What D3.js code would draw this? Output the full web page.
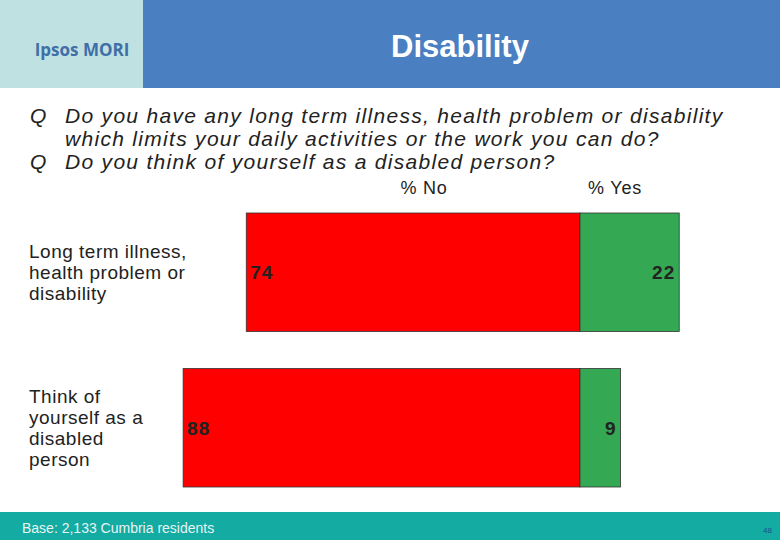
<!DOCTYPE html>
<html><head><meta charset="utf-8">
<script src="https://cdn.jsdelivr.net/npm/d3@7"></script>
<style>body{margin:0}svg{display:block}</style>
</head><body>
<svg id="c" width="780" height="540"></svg>
<script>
// data
const categories = ['Long term illness, health problem or disability', 'Think of yourself as a disabled person'];
const labelLines = [['Long term illness,', 'health problem or', 'disability'], ['Think of', 'yourself as a', 'disabled', 'person']];
const noValues = [74, 88];
const yesValues = [22, 9];
const questions = ['Do you have any long term illness, health problem or disability', 'which limits your daily activities or the work you can do?', 'Do you think of yourself as a disabled person?'];

const svg = d3.select('#c');
const font = 'Arial, Liberation Sans, sans-serif';

// header
svg.append('rect').attr('x', 0).attr('y', 0).attr('width', 780).attr('height', 88).attr('fill', '#4a7fc1');
svg.append('rect').attr('x', 0).attr('y', 0).attr('width', 143).attr('height', 88).attr('fill', '#c0e1e2');
svg.append('text').attr('x', 82).attr('y', 56).attr('text-anchor', 'middle').attr('font-family', 'Open Sans, sans-serif')
  .attr('font-weight', 'bold').attr('font-size', 17).attr('fill', '#3f6fa6').text('Ipsos MORI');
svg.append('text').attr('x', 460).attr('y', 57).attr('text-anchor', 'middle').attr('font-family', font)
  .attr('font-weight', 'bold').attr('font-size', 31).attr('fill', '#fff').text('Disability');

// questions
const qg = svg.append('g').attr('font-family', font).attr('font-style', 'italic').attr('font-size', 21)
  .attr('letter-spacing', 1.3).attr('fill', '#222');
[[0, 'Q'], [2, 'Q']].forEach(([i, t]) => qg.append('text').attr('x', 30).attr('y', 123 + i * 23).text(t));
questions.forEach((q, i) => qg.append('text').attr('x', 65).attr('y', 123 + i * 23).text(q));

// scales
const x = d3.scaleLinear().domain([-100, 100]).range([580 - 451, 580 + 451]);
const y = d3.scaleBand().domain(categories).range([213, 487]).paddingInner(0.238).paddingOuter(0);

svg.append('text').attr('x', 424).attr('y', 194).attr('text-anchor', 'middle').attr('font-family', font).attr('font-size', 18).attr('letter-spacing', 0.8).attr('fill', '#222').text('% No');
svg.append('text').attr('x', 615).attr('y', 194).attr('text-anchor', 'middle').attr('font-family', font).attr('font-size', 18).attr('letter-spacing', 0.8).attr('fill', '#222').text('% Yes');

categories.forEach((c, i) => {
  const y0 = y(c), h = y.bandwidth();
  svg.append('rect').attr('x', x(-noValues[i])).attr('y', y0).attr('width', x(0) - x(-noValues[i])).attr('height', h)
    .attr('fill', '#ff0000').attr('stroke', '#333').attr('stroke-width', 0.8);
  svg.append('rect').attr('x', x(0)).attr('y', y0).attr('width', x(yesValues[i]) - x(0)).attr('height', h)
    .attr('fill', '#34a853').attr('stroke', '#333').attr('stroke-width', 0.8);
  svg.append('text').attr('x', x(-noValues[i]) + 4).attr('y', y0 + h / 2 + 7).attr('font-family', font).attr('font-weight', 600)
    .attr('font-size', 19).attr('letter-spacing', 1).attr('fill', '#222').text(noValues[i]);
  svg.append('text').attr('x', x(yesValues[i]) - 4).attr('y', y0 + h / 2 + 7).attr('text-anchor', 'end').attr('font-family', font).attr('font-weight', 600)
    .attr('font-size', 19).attr('letter-spacing', 1).attr('fill', '#222').text(yesValues[i]);
  const lines = labelLines[i];
  lines.forEach((l, j) => svg.append('text').attr('x', 29).attr('y', y0 + h / 2 + 7 + (j - (lines.length - 1) / 2) * 21)
    .attr('font-family', font).attr('font-size', 19).attr('letter-spacing', 0.5).attr('fill', '#222').text(l));
});

// footer
svg.append('rect').attr('x', 0).attr('y', 512).attr('width', 780).attr('height', 28).attr('fill', '#13aba2');
svg.append('text').attr('x', 22).attr('y', 533).attr('font-family', font).attr('font-size', 14).attr('fill', '#e8f4f3').text('Base: 2,133 Cumbria residents');
svg.append('text').attr('x', 772).attr('y', 533).attr('text-anchor', 'end').attr('font-family', font).attr('font-size', 8).attr('fill', '#1d4e8a').text('48');
</script>
</body></html>
